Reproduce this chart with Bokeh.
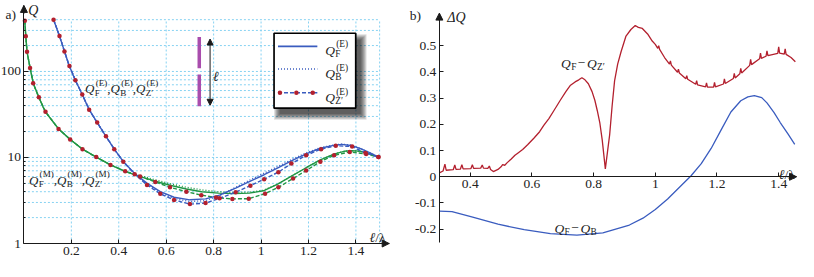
from bokeh.plotting import figure
from bokeh.layouts import row
from bokeh.models import Range1d, FixedTicker, Arrow, NormalHead, ColumnDataSource
from bokeh.core.properties import value, field
from bokeh.embed import file_html
from bokeh.resources import INLINE

# ---------------- data ----------------
# panel a)  Q versus l/lambda (log scale)
x_ticks_a = [0.2, 0.4, 0.6, 0.8, 1.0, 1.2, 1.4]
x_labels_a = ["0.2", "0.4", "0.6", "0.8", "1", "1.2", "1.4"]
y_ticks_a = [1, 10, 100]
y_labels_a = ["1", "10", "100"]
y_minor_a = [2, 3, 4, 5, 6, 7, 8, 9, 20, 30, 40, 50, 60, 70, 80, 90, 200, 300, 400, 500]
x_grid_a = [0.2, 0.4, 0.6, 0.8, 1.0, 1.2, 1.4, 1.5]
y_grid_a = [2, 3, 4, 5, 6, 7, 8, 9, 10, 20, 30, 40, 50, 60, 70, 80, 90, 100, 200, 300, 400]

x_E = [0.125, 0.15, 0.17, 0.19, 0.217, 0.246, 0.275, 0.309, 0.346, 0.381,
       0.419, 0.467, 0.52, 0.575, 0.633, 0.70, 0.766, 0.825, 0.893, 0.955,
       1.013, 1.073, 1.13, 1.19, 1.25, 1.31, 1.34, 1.38, 1.42, 1.46, 1.495]
QF_E = [400, 258, 175, 118, 79, 54, 36, 25.5, 17.6, 12.5,
        8.95, 6.5, 5.0, 4.0, 3.45, 3.22, 3.3, 3.65, 4.4, 5.3,
        6.3, 7.6, 9.2, 11.0, 12.8, 13.9, 14.2, 13.8, 12.7, 11.3, 10.1]
QB_E = [400, 258, 175, 118, 79, 54, 36, 25.5, 17.6, 12.5,
        8.95, 6.45, 4.9, 3.9, 3.33, 3.08, 3.15, 3.6, 4.5, 5.5,
        6.6, 7.9, 9.5, 11.3, 13.0, 14.0, 14.3, 13.9, 12.7, 11.3, 10.1]
x_ZE = [0.125, 0.15, 0.171, 0.192, 0.217, 0.246, 0.275, 0.309, 0.346, 0.381,
        0.419, 0.467, 0.519, 0.575, 0.633, 0.70, 0.766, 0.825, 0.893, 0.955,
        1.013, 1.073, 1.128, 1.19, 1.253, 1.315, 1.384, 1.44, 1.495]
QZ_E = [400, 258, 171, 116, 79, 54, 36, 25.5, 17.6, 12.5,
        8.95, 6.4, 4.8, 3.78, 3.2, 2.87, 2.95, 3.35, 3.95, 4.7,
        5.6, 6.75, 8.5, 10.6, 12.5, 13.7, 13.4, 11.3, 10.1]

x_M = [0.003, 0.008, 0.013, 0.026, 0.04, 0.063, 0.09, 0.146, 0.195, 0.247,
       0.305, 0.365, 0.427, 0.49, 0.554, 0.616, 0.685, 0.75, 0.82, 0.89,
       0.95, 1.01, 1.07, 1.13, 1.19, 1.25, 1.31, 1.35, 1.38, 1.42, 1.46, 1.495]
QF_M = [400, 257, 170, 110, 72, 50, 34, 21.5, 16.2, 12.5,
        10.1, 8.2, 6.9, 6.0, 5.3, 4.75, 4.3, 4.0, 3.85, 3.8,
        3.85, 4.1, 4.9, 6.1, 7.6, 9.4, 11.0, 11.8, 12.0, 11.8, 11.0, 10.1]
QB_M = [400, 257, 170, 110, 72, 50, 34, 21.5, 16.2, 12.5,
        10.1, 8.2, 6.95, 6.15, 5.5, 4.95, 4.5, 4.2, 4.0, 3.92,
        3.95, 4.15, 4.9, 6.1, 7.6, 9.4, 11.0, 11.8, 12.0, 11.8, 11.0, 10.1]
x_ZM = [0.004, 0.008, 0.013, 0.026, 0.039, 0.063, 0.091, 0.146, 0.195, 0.247,
        0.305, 0.365, 0.427, 0.49, 0.554, 0.616, 0.685, 0.748, 0.81, 0.879,
        0.948, 1.017, 1.073, 1.135, 1.19, 1.25, 1.308, 1.374, 1.443, 1.495]
QZ_M = [388, 257, 170, 110, 73, 50, 34, 21.5, 16.2, 12.5,
        10.1, 8.2, 6.9, 6.0, 5.2, 4.5, 4.0, 3.65, 3.42, 3.3,
        3.32, 3.8, 4.5, 5.7, 7.05, 8.95, 10.6, 11.6, 11.0, 10.1]

# panel b)  Delta Q versus l/lambda
x_ticks_b = [0.4, 0.6, 0.8, 1.0, 1.2, 1.4]
x_labels_b = ["0.4", "0.6", "0.8", "1", "1.2", "1.4"]
y_ticks_b = [-0.2, -0.1, 0.0, 0.1, 0.2, 0.3, 0.4, 0.5]
y_labels_b = ["-0.2", "-0.1", "0", "0.1", "0.2", "0.3", "0.4", "0.5"]

x_FZ = [0.300, 0.312, 0.318, 0.322, 0.345, 0.350, 0.354, 0.368, 0.373, 0.377,
        0.402, 0.407, 0.411, 0.434, 0.439, 0.443, 0.457, 0.462, 0.466, 0.475,
        0.490, 0.500, 0.505, 0.512, 0.520, 0.533, 0.545, 0.554, 0.570, 0.586,
        0.607, 0.625, 0.639, 0.655, 0.671, 0.692, 0.710, 0.724, 0.740, 0.752,
        0.762, 0.772, 0.783, 0.795, 0.804, 0.812, 0.820, 0.828, 0.838, 0.845,
        0.852, 0.860, 0.868, 0.878, 0.889, 0.905, 0.921, 0.935, 0.945, 0.958,
        0.975, 0.990, 1.000, 1.008, 1.011, 1.014, 1.030, 1.046, 1.049, 1.052,
        1.072, 1.075, 1.078, 1.099, 1.102, 1.105, 1.131, 1.134, 1.137, 1.163,
        1.166, 1.169, 1.189, 1.192, 1.195, 1.221, 1.224, 1.227, 1.253, 1.256,
        1.259, 1.274, 1.277, 1.280, 1.306, 1.309, 1.312, 1.338, 1.341, 1.344,
        1.359, 1.362, 1.365, 1.397, 1.400, 1.403, 1.418, 1.421, 1.424, 1.440, 1.454]
dQ_FZ = [0.015, 0.022, 0.048, 0.025, 0.027, 0.045, 0.028, 0.029, 0.046, 0.030,
         0.031, 0.046, 0.032, 0.033, 0.045, 0.033, 0.032, 0.041, 0.028, 0.020,
         0.028, 0.038, 0.046, 0.044, 0.054, 0.068, 0.082, 0.090, 0.104, 0.122,
         0.148, 0.172, 0.197, 0.222, 0.252, 0.292, 0.325, 0.348, 0.362, 0.370,
         0.378, 0.370, 0.355, 0.325, 0.292, 0.252, 0.207, 0.140, 0.030, 0.095,
         0.160, 0.270, 0.366, 0.430, 0.477, 0.537, 0.562, 0.577, 0.570, 0.566,
         0.545, 0.518, 0.505, 0.490, 0.500, 0.486, 0.455, 0.430, 0.442, 0.426,
         0.399, 0.411, 0.396, 0.374, 0.386, 0.372, 0.353, 0.367, 0.351, 0.343,
         0.358, 0.342, 0.342, 0.360, 0.343, 0.354, 0.374, 0.356, 0.375, 0.395,
         0.377, 0.393, 0.414, 0.396, 0.425, 0.448, 0.428, 0.450, 0.472, 0.452,
         0.460, 0.480, 0.462, 0.471, 0.496, 0.472, 0.468, 0.488, 0.467, 0.455, 0.439]

x_FB = [0.300, 0.341, 0.405, 0.490, 0.575, 0.660, 0.746, 0.830, 0.916, 0.960,
        1.000, 1.040, 1.080, 1.116, 1.149, 1.181, 1.213, 1.245, 1.277, 1.300,
        1.321, 1.345, 1.362, 1.385, 1.405, 1.430, 1.452]
dQ_FB = [-0.131, -0.133, -0.153, -0.181, -0.202, -0.217, -0.223, -0.214, -0.184, -0.158,
         -0.125, -0.085, -0.038, 0.004, 0.050, 0.108, 0.178, 0.247, 0.290, 0.305,
         0.310, 0.302, 0.282, 0.245, 0.207, 0.164, 0.124]

# ---------------- styling ----------------
FONT = "Liberation Serif"
TXT = "#222222"
AXC = "#1a1a1a"
BLUE = "#3a5cbf"
GREEN = "#1f9644"
RED = "#b3202e"
PURPLE = "#a94dad"
GRID = "#86d2f2"
FS = 13.5

# layout geometry: reference pixel -> canvas pixel
SX, SY = 0.984, 0.96
W1, W2, H = 400, 398, 261


def cx(rx):
    return (rx - 1.0) * SX


def cy(ry):
    return ry * SY - 2.76


LX0, LXS = cx(24.8), 241.0 * SX
LY1, LYS = cy(256.0), 89.6 * SY
RX0, RXS = cx(447.0) - W1, 313.5 * SX
RY0, RYS = cy(186.5), 273.0 * SY


def a_data(px, py):
    return (px - LX0) / LXS, 10 ** ((LY1 - py) / LYS)


def a_ref(rx, ry):
    return a_data(cx(rx), cy(ry))


def b_data(px, py):
    return 0.3 + (px - RX0) / RXS, (RY0 - py) / RYS


def b_ref(rx, ry):
    return b_data(cx(rx) - W1, cy(ry))


WID = {'Q': 0.722, 'F': 0.556, 'B': 0.667, 'Z': 0.611, '′': 0.25, '(': 0.333, ')': 0.333,
       'E': 0.611, 'M': 0.889, ',': 0.25, '−': 0.564, 'Δ': 0.612, 'ℓ': 0.42, '/': 0.278,
       'λ': 0.5, 'a': 0.444, 'b': 0.5}


def tw(s, size):
    return sum(WID.get(ch, 0.5) for ch in s) * size


TEXTS = {"a": [], "b": []}


def put(panel, px, py, s, size, style="normal"):
    x, y = (a_data if panel == "a" else b_data)(px, py)
    TEXTS[panel].append((x, y, s, f"{size}px", style))


def rich(panel, rx, ry, parts, size=FS):
    px = cx(rx) - (W1 if panel == "b" else 0)
    py = cy(ry)
    small = round(size * 0.7, 1)
    for part in parts:
        kind = part[0]
        if kind == "t":
            put(panel, px, py, part[1], size, part[2])
            px += tw(part[1], size)
        elif kind == "ss":
            w = 0
            if part[1]:
                put(panel, px + 0.3, py + 0.28 * size, part[1], small)
                w = max(w, tw(part[1], small) + 0.3)
            if part[2]:
                put(panel, px + 1.2, py - 0.45 * size, part[2], small)
                w = max(w, tw(part[2], small) + 1.2)
            px += w
        elif kind == "sp":
            px += part[1]


def draw_texts(p, items):
    src = ColumnDataSource(dict(x=[i[0] for i in items], y=[i[1] for i in items],
                                text=[i[2] for i in items], size=[i[3] for i in items],
                                style=[i[4] for i in items]))
    p.text(x="x", y="y", text="text", source=src, text_font=value(FONT),
           text_font_size=field("size"), text_font_style=field("style"),
           text_color=TXT, text_baseline="alphabetic", text_align="left")


def style_axis(ax):
    ax.axis_line_color = AXC
    ax.axis_line_width = 1
    ax.major_tick_line_color = AXC
    ax.major_tick_in = 4
    ax.major_tick_out = 0
    ax.minor_tick_line_color = AXC
    ax.minor_tick_in = 2
    ax.minor_tick_out = 0
    ax.major_label_text_font = FONT
    ax.major_label_text_font_size = f"{FS}px"
    ax.major_label_text_color = TXT
    ax.major_label_standoff = 3


def arrowhead(p, x0, y0, x1, y1):
    p.add_layout(Arrow(end=NormalHead(size=7, fill_color=AXC, line_color=AXC, line_width=1),
                       x_start=x0, y_start=y0, x_end=x1, y_end=y1,
                       line_color=AXC, line_width=1))


# ================= panel a =================
pa = figure(width=W1, height=H, x_range=Range1d(a_data(0, 0)[0], a_data(W1, 0)[0]),
            y_range=Range1d(a_data(0, H)[1], a_data(0, 0)[1]), y_axis_type="log",
            output_backend="svg", toolbar_location=None, tools="", min_border=0,
            outline_line_color=None)
pa.grid.visible = False

x_tip_a = a_ref(396, 256)[0]
y_tip_a = a_ref(24.8, 8)[1]

# dotted grid
pa.segment(x0=x_grid_a, y0=[y_ticks_a[0]] * len(x_grid_a), x1=x_grid_a,
           y1=[y_grid_a[-1]] * len(x_grid_a), line_color=GRID, line_width=1, line_dash="2 2")
pa.segment(x0=[0] * len(y_grid_a), y0=y_grid_a, x1=[x_grid_a[-1]] * len(y_grid_a), y1=y_grid_a,
           line_color=GRID, line_width=1, line_dash="2 2")

ax = pa.xaxis[0]
ax.fixed_location = 1
ax.ticker = FixedTicker(ticks=x_ticks_a)
ax.major_label_overrides = dict(zip(x_ticks_a, x_labels_a))
ax.bounds = (0, x_tip_a)
style_axis(ax)
ay = pa.yaxis[0]
ay.fixed_location = 0
ay.ticker = FixedTicker(ticks=y_ticks_a, minor_ticks=y_minor_a)
ay.major_label_overrides = dict(zip(y_ticks_a, y_labels_a))
ay.bounds = (1, y_tip_a)
style_axis(ay)
ay.major_tick_in = 5
arrowhead(pa, x_tip_a - 0.03, 1, x_tip_a, 1)
arrowhead(pa, 0, y_tip_a * 0.8, 0, y_tip_a)

# curves
pa.line(x_M, QF_M, line_color=GREEN, line_width=1.4)
pa.line(x_M, QB_M, line_color=GREEN, line_width=1.4, line_dash="1 2")
pa.line(x_ZM, QZ_M, line_color=GREEN, line_width=1.4, line_dash="4 2")
pa.line(x_E, QF_E, line_color=BLUE, line_width=1.4)
pa.line(x_E, QB_E, line_color=BLUE, line_width=1.4, line_dash="1 2")
pa.line(x_ZE, QZ_E, line_color=BLUE, line_width=1.4, line_dash="4 2")
pa.scatter(x_ZM, QZ_M, marker="circle", size=4.5, fill_color=RED, line_color=None)
pa.scatter(x_ZE, QZ_E, marker="circle", size=4.5, fill_color=RED, line_color=None)

# dipole sketch
bx = a_ref(203, 0)[0]
pa.segment(x0=[bx, bx], y0=[a_ref(0, 41)[1], a_ref(0, 80)[1]], x1=[bx, bx],
           y1=[a_ref(0, 73.5)[1], a_ref(0, 113)[1]], line_color=PURPLE, line_width=3.5)
axx = a_ref(214, 0)[0]
pa.add_layout(Arrow(start=NormalHead(size=6, fill_color=AXC, line_color=AXC),
                    end=NormalHead(size=6, fill_color=AXC, line_color=AXC),
                    x_start=axx, y_start=a_ref(0, 112)[1], x_end=axx, y_end=a_ref(0, 43)[1],
                    line_color=AXC, line_width=1))

# legend with drop shadow
box_l, box_t, box_r, box_b = 279, 37, 362, 115
for k in range(7):
    l, t = a_ref(box_l + 6 - k, box_t + 7 - k)
    r, b = a_ref(box_r + 5 + k, box_b + 6 + k)
    pa.quad(left=l, right=r, top=t, bottom=b, fill_color="black", fill_alpha=0.13, line_color=None)
l, t = a_ref(box_l, box_t)
r, b = a_ref(box_r, box_b)
pa.quad(left=l, right=r, top=t, bottom=b, fill_color="white", line_color="black", line_width=1.7)
for ry, dash in [(50.7, "solid"), (74.3, "1 2"), (99.0, "4 2")]:
    x0, y0 = a_ref(283, ry)
    x1, _ = a_ref(323, ry)
    pa.line([x0, x1], [y0, y0], line_color=BLUE, line_width=1.6, line_dash=dash)
pa.scatter([a_ref(rx, 99)[0] for rx in (285, 301.7, 318.3)], [a_ref(0, 99)[1]] * 3,
           marker="circle", size=4.5, fill_color=RED, line_color=None)

rich("a", 331, 54.5, [("t", "Q", "italic"), ("ss", "F", "(E)")])
rich("a", 331, 79, [("t", "Q", "italic"), ("ss", "B", "(E)")])
rich("a", 331, 104, [("t", "Q", "italic"), ("ss", "Z′", "(E)")])

rich("a", 87, 95, [("t", "Q", "italic"), ("ss", "F", "(E)"), ("t", ",", "normal"),
                   ("t", "Q", "italic"), ("ss", "B", "(E)"), ("t", ",", "normal"),
                   ("t", "Q", "italic"), ("ss", "Z′", "(E)")], 13)
rich("a", 30, 190, [("t", "Q", "italic"), ("ss", "F", "(M)"), ("t", ",", "normal"),
                    ("t", "Q", "italic"), ("ss", "B", "(M)"), ("t", ",", "normal"),
                    ("t", "Q", "italic"), ("ss", "Z′", "(M)")], 13)
rich("a", 217, 82, [("t", "ℓ", "italic")])
rich("a", 29.3, 13.5, [("t", "Q", "italic")], 14)
rich("a", 6, 17.5, [("t", "a)", "normal")])
rich("a", 376, 250, [("t", "ℓ", "italic"), ("t", "/λ", "normal")])
draw_texts(pa, TEXTS["a"])

# ================= panel b =================
pb = figure(width=W2, height=H, x_range=Range1d(b_data(0, 0)[0], b_data(W2, 0)[0]),
            y_range=Range1d(b_data(0, H)[1], b_data(0, 0)[1]),
            output_backend="svg", toolbar_location=None, tools="", min_border=0,
            outline_line_color=None)
pb.grid.visible = False

x_tip_b = b_ref(810, 186.5)[0]
y_tip_b = b_ref(447, 16)[1]
y_bot_b = b_ref(447, 255)[1]

bxa = pb.xaxis[0]
bxa.fixed_location = 0
bxa.ticker = FixedTicker(ticks=x_ticks_b)
bxa.major_label_overrides = dict(zip(x_ticks_b, x_labels_b))
bxa.bounds = (0.3, x_tip_b)
style_axis(bxa)
bya = pb.yaxis[0]
bya.fixed_location = 0.3
bya.ticker = FixedTicker(ticks=y_ticks_b)
bya.major_label_overrides = dict(zip(y_ticks_b, y_labels_b))
bya.bounds = (y_bot_b, y_tip_b)
style_axis(bya)
arrowhead(pb, x_tip_b - 0.03, 0, x_tip_b, 0)
arrowhead(pb, 0.3, y_tip_b - 0.03, 0.3, y_tip_b)

pb.line(x_FZ, dQ_FZ, line_color=RED, line_width=1.3)
pb.line(x_FB, dQ_FB, line_color=BLUE, line_width=1.3)

rich("b", 570.7, 68, [("t", "Q", "italic"), ("ss", "F", None), ("sp", 1.5), ("t", "−", "normal"),
                      ("sp", 1.5), ("t", "Q", "italic"), ("ss", "Z′", None)])
rich("b", 564, 240, [("t", "Q", "italic"), ("ss", "F", None), ("sp", 1.5), ("t", "−", "normal"),
                     ("sp", 1.5), ("t", "Q", "italic"), ("ss", "B", None)])
rich("b", 455, 21, [("t", "ΔQ", "italic")], 14)
rich("b", 417, 18.5, [("t", "b)", "normal")])
rich("b", 792, 184, [("t", "ℓ", "italic"), ("t", "/λ", "normal")])
draw_texts(pb, TEXTS["b"])

layout = row(pa, pb)
open("out.html", "w").write(file_html(layout, INLINE))
